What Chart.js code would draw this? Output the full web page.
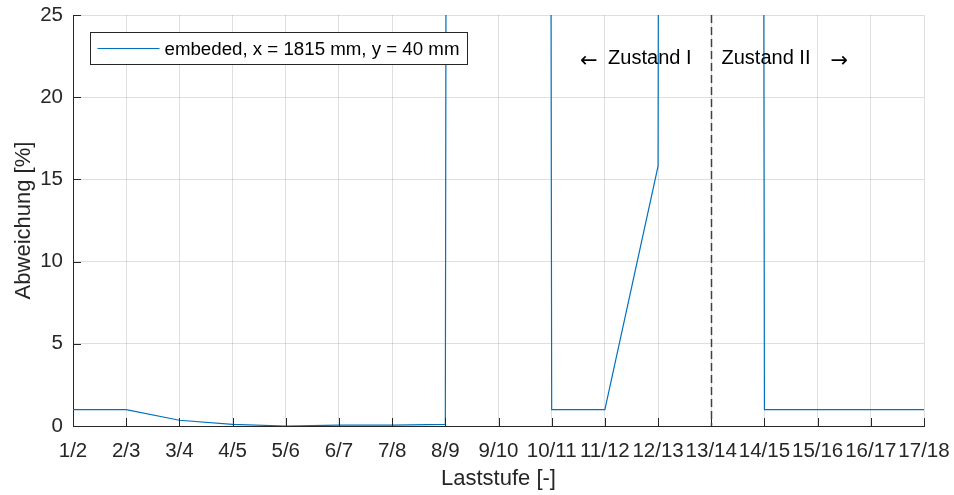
<!DOCTYPE html>
<html>
<head>
<meta charset="utf-8">
<script src="https://cdn.jsdelivr.net/npm/chart.js@4.4.1/dist/chart.umd.min.js"></script>
<style>
  html, body { margin: 0; padding: 0; background: #fff; }
  canvas { display: block; }
</style>
</head>
<body>
<canvas id="chart" width="954" height="495"></canvas>
<script>
// categories (load steps)
const laststufen = ['1/2', '2/3', '3/4', '4/5', '5/6', '6/7', '7/8', '8/9', '9/10',
    '10/11', '11/12', '12/13', '13/14', '14/15', '15/16', '16/17', '17/18'];
// deviation in %, 9/10 and 13/14 are far off the scale
const abweichung = [1.0, 1.0, 0.35, 0.1, 0.0, 0.05, 0.05, 0.1, 5000,
    1.0, 1.0, 15.8, 5000, 1.0, 1.0, 1.0, 1.0];
const yTicks = [0, 5, 10, 15, 20, 25];
const serieName = 'embeded, x = 1815 mm, y = 40 mm';
const grenze = '13/14';

const FONT = '"Liberation Sans", Arial, Helvetica, sans-serif';
const AXIS = '#262626';
const GRID = 'rgba(38,38,38,0.15)';
const BLUE = '#0072BD';

// MATLAB-style extras: inward ticks, dashed boundary, labels, legend box
const extras = {
    id: 'extras',
    afterDraw(chart) {
        const ctx = chart.ctx;
        const x = chart.scales.x, y = chart.scales.y;
        const area = chart.chartArea;
        ctx.save();

        // inward tick marks
        ctx.strokeStyle = AXIS;
        ctx.lineWidth = 1;
        ctx.beginPath();
        laststufen.forEach((c, i) => {
            const px = Math.round(x.getPixelForValue(i)) + 0.5;
            ctx.moveTo(px, area.bottom);
            ctx.lineTo(px, area.bottom - 8);
        });
        yTicks.forEach(v => {
            const py = Math.round(y.getPixelForValue(v)) + 0.5;
            ctx.moveTo(area.left, py);
            ctx.lineTo(area.left + 8, py);
        });
        ctx.stroke();

        // dashed boundary Zustand I / II
        const xd = Math.round(x.getPixelForValue(laststufen.indexOf(grenze))) + 0.5;
        ctx.strokeStyle = '#404040';
        ctx.lineWidth = 1.5;
        ctx.setLineDash([8, 4]);
        ctx.beginPath();
        ctx.moveTo(xd, area.top);
        ctx.lineTo(xd, area.bottom);
        ctx.stroke();
        ctx.setLineDash([]);

        // labels
        const ty = y.getPixelForValue(22.35);
        ctx.fillStyle = '#000';
        ctx.textBaseline = 'middle';
        ctx.font = '20px ' + FONT;
        ctx.textAlign = 'right';
        ctx.fillText('Zustand I', xd - 20, ty);
        ctx.textAlign = 'left';
        ctx.fillText('Zustand II', xd + 10, ty);
        ctx.font = '21px "DejaVu Sans", sans-serif';
        ctx.textAlign = 'right';
        ctx.fillText('\u2190', xd - 114, ty + 3);
        ctx.textAlign = 'left';
        ctx.fillText('\u2192', xd + 119, ty + 3);

        // legend box
        ctx.font = '18.7px ' + FONT;
        const tw = ctx.measureText(serieName).width;
        const bx = area.left + 17.5, by = area.top + 17.5;
        const bw = 7 + 62 + 5 + tw + 8, bh = 32;
        ctx.fillStyle = '#fff';
        ctx.fillRect(bx, by, bw, bh);
        ctx.strokeStyle = AXIS;
        ctx.lineWidth = 1;
        ctx.strokeRect(bx, by, bw, bh);
        ctx.strokeStyle = BLUE;
        ctx.lineWidth = 1.2;
        ctx.beginPath();
        ctx.moveTo(bx + 7, by + bh / 2);
        ctx.lineTo(bx + 69, by + bh / 2);
        ctx.stroke();
        ctx.fillStyle = '#000';
        ctx.textAlign = 'left';
        ctx.fillText(serieName, bx + 74, by + bh / 2 + 1);

        ctx.restore();
    }
};

new Chart(document.getElementById('chart').getContext('2d'), {
    type: 'line',
    data: {
        labels: laststufen,
        datasets: [{
            label: serieName,
            data: abweichung,
            borderColor: BLUE,
            borderWidth: 1.2,
            pointRadius: 0,
            tension: 0,
            fill: false
        }]
    },
    options: {
        responsive: false,
        animation: false,
        layout: { padding: { left: 0, right: 30, top: 15, bottom: 0 } },
        plugins: {
            legend: { display: false },
            tooltip: { enabled: false }
        },
        scales: {
            x: {
                type: 'category',
                offset: false,
                grid: { color: GRID, drawTicks: false },
                border: { color: AXIS, width: 1 },
                ticks: {
                    autoSkip: false, maxRotation: 0, minRotation: 0,
                    color: AXIS, padding: 13,
                    font: { family: FONT, size: 20.5 }
                },
                title: {
                    display: true, text: 'Laststufe [-]', color: AXIS,
                    font: { family: FONT, size: 22 },
                    padding: { top: 0, bottom: 3 }
                },
                afterFit(scale) {
                    scale.height = 69;
                    scale.paddingLeft = 0;
                    scale.paddingRight = 0;
                }
            },
            y: {
                min: 0, max: 25,
                grid: { color: GRID, drawTicks: false },
                border: { color: AXIS, width: 1 },
                ticks: {
                    stepSize: 5, color: AXIS, padding: 10,
                    font: { family: FONT, size: 20.5 }
                },
                title: {
                    display: true, text: 'Abweichung [%]', color: AXIS,
                    font: { family: FONT, size: 22 },
                    padding: { top: 11, bottom: 0 }
                },
                afterFit(scale) {
                    scale.width = 73;
                    scale.paddingTop = 0;
                    scale.paddingBottom = 0;
                }
            }
        }
    },
    plugins: [extras]
});
</script>
</body>
</html>
